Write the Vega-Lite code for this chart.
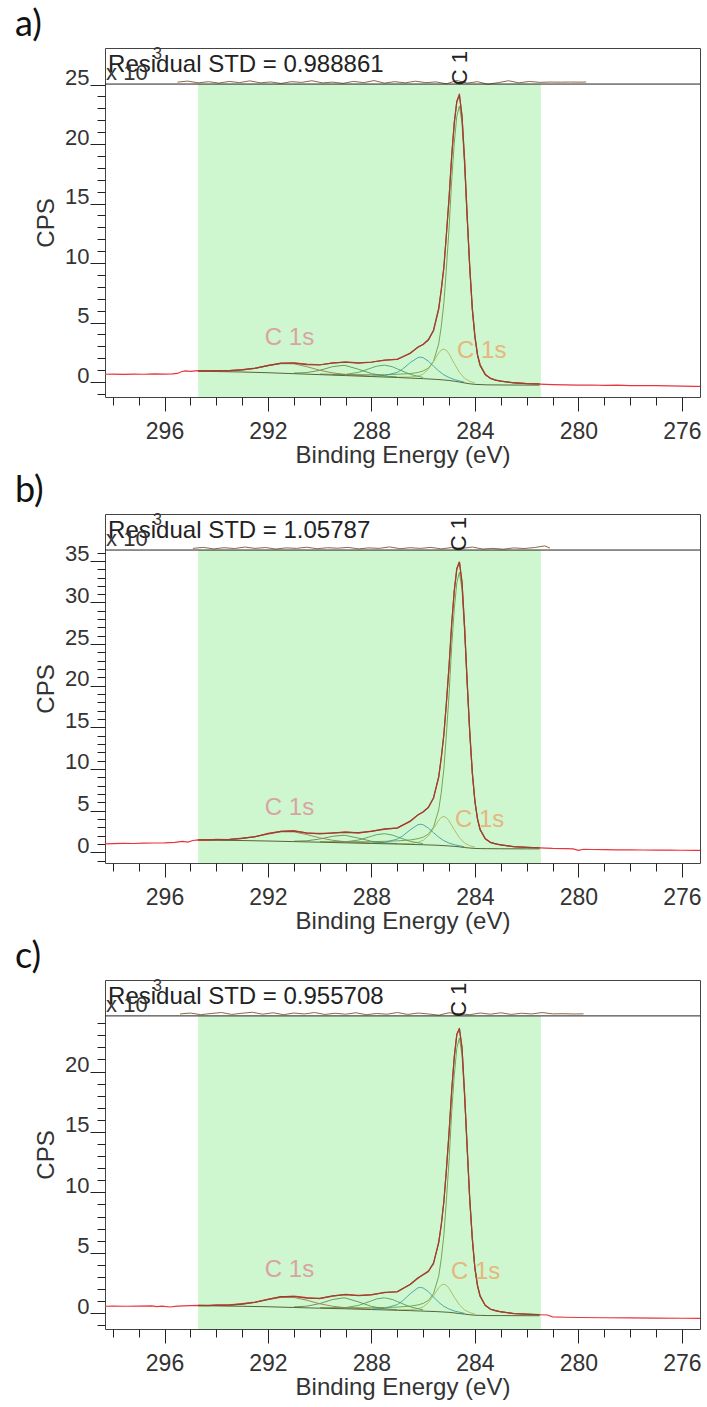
{
  "$schema": "https://vega.github.io/schema/vega-lite/v6.json",
  "background": "white",
  "padding": {"left": 14, "top": 6, "right": 4, "bottom": 0},
  "config": {
    "view": {"stroke": "#444", "strokeWidth": 1},
    "concat": {"spacing": 4},
    "axis": {"grid": false, "domain": false, "labelFont": "Liberation Sans", "titleFont": "Liberation Sans", "labelColor": "#333", "titleColor": "#333", "tickColor": "#222", "labelFontSize": 22, "titleFontSize": 24, "titleFontWeight": "normal", "labelOverlap": false}
  },
  "datasets": {
    "rows": [
      {"p":"a","s":"band","x":294.7,"x2":281.45,"y":-1.26,"y2":25.04},
      {"p":"a","s":"sep","x":298.3,"x2":275.3,"y":25.04},
      {"p":"a","s":"std","x":298.18,"y":26.05,"t":"Residual STD = 0.988861"},
      {"p":"a","s":"x10","x":298.26,"y":25.38,"t":"x 10"},
      {"p":"a","s":"exp","x":296.44,"y":27.14,"t":"3"},
      {"p":"a","s":"tag","x":284.58,"y":26.38,"t":"C 1"},
      {"p":"a","s":"l1","x":292.12,"y":3.7,"t":"C 1s"},
      {"p":"a","s":"l2","x":284.69,"y":2.6,"t":"C 1s"},

      {"p":"a","s":"raw","x":298.3,"y":0.65},{"p":"a","s":"raw","x":298,"y":0.66},{"p":"a","s":"raw","x":297.6,"y":0.64},{"p":"a","s":"raw","x":297.2,"y":0.66},{"p":"a","s":"raw","x":296.8,"y":0.65},{"p":"a","s":"raw","x":296.4,"y":0.68},{"p":"a","s":"raw","x":296,"y":0.67},{"p":"a","s":"raw","x":295.7,"y":0.69},{"p":"a","s":"raw","x":295.5,"y":0.72},{"p":"a","s":"raw","x":295.35,"y":0.86},{"p":"a","s":"raw","x":295.2,"y":0.93},{"p":"a","s":"raw","x":295,"y":0.9},{"p":"a","s":"raw","x":294.7,"y":0.95},{"p":"a","s":"raw","x":294.3,"y":0.93},{"p":"a","s":"raw","x":294,"y":0.96},{"p":"a","s":"raw","x":293.5,"y":0.95},{"p":"a","s":"raw","x":293,"y":1.05},{"p":"a","s":"raw","x":292.5,"y":1.15},{"p":"a","s":"raw","x":292,"y":1.4},{"p":"a","s":"raw","x":291.5,"y":1.56},{"p":"a","s":"raw","x":291,"y":1.62},{"p":"a","s":"raw","x":290.5,"y":1.5},{"p":"a","s":"raw","x":290,"y":1.45},{"p":"a","s":"raw","x":289.5,"y":1.58},{"p":"a","s":"raw","x":289,"y":1.7},{"p":"a","s":"raw","x":288.5,"y":1.6},{"p":"a","s":"raw","x":288,"y":1.68},{"p":"a","s":"raw","x":287.5,"y":1.82},{"p":"a","s":"raw","x":287,"y":1.93},{"p":"a","s":"raw","x":286.5,"y":2.4},{"p":"a","s":"raw","x":286.2,"y":2.95},{"p":"a","s":"raw","x":286,"y":3.15},{"p":"a","s":"raw","x":285.8,"y":3.57},{"p":"a","s":"raw","x":285.6,"y":4.3},{"p":"a","s":"raw","x":285.4,"y":6.1},{"p":"a","s":"raw","x":285.3,"y":7.8},{"p":"a","s":"raw","x":285.2,"y":9.6},{"p":"a","s":"raw","x":285.1,"y":12.5},{"p":"a","s":"raw","x":285,"y":15.5},{"p":"a","s":"raw","x":284.9,"y":18.9},{"p":"a","s":"raw","x":284.8,"y":21.8},{"p":"a","s":"raw","x":284.7,"y":23.6},{"p":"a","s":"raw","x":284.6,"y":24.2},{"p":"a","s":"raw","x":284.5,"y":22.3},{"p":"a","s":"raw","x":284.4,"y":18.7},{"p":"a","s":"raw","x":284.3,"y":13.9},{"p":"a","s":"raw","x":284.2,"y":9.7},{"p":"a","s":"raw","x":284.1,"y":6.1},{"p":"a","s":"raw","x":284,"y":3.85},{"p":"a","s":"raw","x":283.9,"y":2.3},{"p":"a","s":"raw","x":283.8,"y":1.45},{"p":"a","s":"raw","x":283.6,"y":0.65},{"p":"a","s":"raw","x":283.4,"y":0.32},{"p":"a","s":"raw","x":283.2,"y":0.15},{"p":"a","s":"raw","x":283,"y":0.08},{"p":"a","s":"raw","x":282.5,"y":-0.06},{"p":"a","s":"raw","x":282,"y":-0.14},{"p":"a","s":"raw","x":281.5,"y":-0.18},{"p":"a","s":"raw","x":281,"y":-0.22},{"p":"a","s":"raw","x":280.5,"y":-0.24},{"p":"a","s":"raw","x":280,"y":-0.26},{"p":"a","s":"raw","x":279.5,"y":-0.25},{"p":"a","s":"raw","x":279,"y":-0.28},{"p":"a","s":"raw","x":278.5,"y":-0.27},{"p":"a","s":"raw","x":278,"y":-0.3},{"p":"a","s":"raw","x":277.5,"y":-0.31},{"p":"a","s":"raw","x":277,"y":-0.3},{"p":"a","s":"raw","x":276.5,"y":-0.33},{"p":"a","s":"raw","x":276,"y":-0.35},{"p":"a","s":"raw","x":275.5,"y":-0.36},{"p":"a","s":"raw","x":275.3,"y":-0.37},

      {"p":"a","s":"env","x":294.7,"y":0.93},{"p":"a","s":"env","x":294,"y":0.94},{"p":"a","s":"env","x":293.5,"y":0.96},{"p":"a","s":"env","x":293,"y":1.02},{"p":"a","s":"env","x":292.5,"y":1.16},{"p":"a","s":"env","x":292,"y":1.38},{"p":"a","s":"env","x":291.5,"y":1.58},{"p":"a","s":"env","x":291,"y":1.59},{"p":"a","s":"env","x":290.5,"y":1.46},{"p":"a","s":"env","x":290,"y":1.43},{"p":"a","s":"env","x":289.5,"y":1.6},{"p":"a","s":"env","x":289,"y":1.66},{"p":"a","s":"env","x":288.5,"y":1.58},{"p":"a","s":"env","x":288,"y":1.66},{"p":"a","s":"env","x":287.5,"y":1.85},{"p":"a","s":"env","x":287,"y":1.89},{"p":"a","s":"env","x":286.5,"y":2.44},{"p":"a","s":"env","x":286.2,"y":2.92},{"p":"a","s":"env","x":286,"y":3.18},{"p":"a","s":"env","x":285.8,"y":3.53},{"p":"a","s":"env","x":285.6,"y":4.37},{"p":"a","s":"env","x":285.4,"y":6.2},{"p":"a","s":"env","x":285.3,"y":7.76},{"p":"a","s":"env","x":285.2,"y":9.7},{"p":"a","s":"env","x":285.1,"y":12.48},{"p":"a","s":"env","x":285,"y":15.42},{"p":"a","s":"env","x":284.9,"y":18.97},{"p":"a","s":"env","x":284.8,"y":21.69},{"p":"a","s":"env","x":284.7,"y":23.57},{"p":"a","s":"env","x":284.6,"y":24.1},{"p":"a","s":"env","x":284.5,"y":22.39},{"p":"a","s":"env","x":284.4,"y":18.57},{"p":"a","s":"env","x":284.3,"y":13.96},{"p":"a","s":"env","x":284.2,"y":9.65},{"p":"a","s":"env","x":284.1,"y":6.17},{"p":"a","s":"env","x":284,"y":3.81},{"p":"a","s":"env","x":283.9,"y":2.28},{"p":"a","s":"env","x":283.8,"y":1.41},{"p":"a","s":"env","x":283.6,"y":0.62},{"p":"a","s":"env","x":283.4,"y":0.3},{"p":"a","s":"env","x":283.2,"y":0.16},{"p":"a","s":"env","x":283,"y":0.07},{"p":"a","s":"env","x":282.5,"y":-0.07},{"p":"a","s":"env","x":282,"y":-0.13},{"p":"a","s":"env","x":281.5,"y":-0.16},

      {"p":"a","s":"bg","x":294.7,"y":0.9},{"p":"a","s":"bg","x":294,"y":0.88},{"p":"a","s":"bg","x":293,"y":0.84},{"p":"a","s":"bg","x":292,"y":0.78},{"p":"a","s":"bg","x":291,"y":0.7},{"p":"a","s":"bg","x":290,"y":0.62},{"p":"a","s":"bg","x":289,"y":0.54},{"p":"a","s":"bg","x":288,"y":0.46},{"p":"a","s":"bg","x":287,"y":0.38},{"p":"a","s":"bg","x":286.5,"y":0.33},{"p":"a","s":"bg","x":286,"y":0.28},{"p":"a","s":"bg","x":285.5,"y":0.22},{"p":"a","s":"bg","x":285.2,"y":0.17},{"p":"a","s":"bg","x":285,"y":0.13},{"p":"a","s":"bg","x":284.8,"y":0.07},{"p":"a","s":"bg","x":284.6,"y":0},{"p":"a","s":"bg","x":284.4,"y":-0.08},{"p":"a","s":"bg","x":284.2,"y":-0.15},{"p":"a","s":"bg","x":284,"y":-0.2},{"p":"a","s":"bg","x":283.5,"y":-0.24},{"p":"a","s":"bg","x":283,"y":-0.25},{"p":"a","s":"bg","x":282,"y":-0.26},{"p":"a","s":"bg","x":281.5,"y":-0.26},

      {"p":"a","s":"k1","x":281.5,"y":-0.16},{"p":"a","s":"k1","x":282,"y":-0.13},{"p":"a","s":"k1","x":282.5,"y":-0.07},{"p":"a","s":"k1","x":283,"y":0.07},{"p":"a","s":"k1","x":283.4,"y":0.3},{"p":"a","s":"k1","x":283.6,"y":0.58},{"p":"a","s":"k1","x":283.8,"y":1.34},{"p":"a","s":"k1","x":283.9,"y":2.19},{"p":"a","s":"k1","x":284,"y":3.7},{"p":"a","s":"k1","x":284.1,"y":6.02},{"p":"a","s":"k1","x":284.2,"y":9.45},{"p":"a","s":"k1","x":284.3,"y":13.68},{"p":"a","s":"k1","x":284.4,"y":18.12},{"p":"a","s":"k1","x":284.5,"y":21.76},{"p":"a","s":"k1","x":284.6,"y":23.2},{"p":"a","s":"k1","x":284.7,"y":22.34},{"p":"a","s":"k1","x":284.8,"y":20.07},{"p":"a","s":"k1","x":284.9,"y":16.9},{"p":"a","s":"k1","x":285,"y":12.93},{"p":"a","s":"k1","x":285.1,"y":9.65},{"p":"a","s":"k1","x":285.2,"y":6.67},{"p":"a","s":"k1","x":285.3,"y":4.69},{"p":"a","s":"k1","x":285.4,"y":3.21},{"p":"a","s":"k1","x":285.6,"y":1.74},{"p":"a","s":"k1","x":285.8,"y":1.16},{"p":"a","s":"k1","x":286,"y":0.93},{"p":"a","s":"k1","x":286.2,"y":0.8},{"p":"a","s":"k1","x":286.5,"y":0.71},{"p":"a","s":"k1","x":287,"y":0.65},{"p":"a","s":"k1","x":287.5,"y":0.62},{"p":"a","s":"k1","x":288,"y":0.61},{"p":"a","s":"k1","x":289,"y":0.63},{"p":"a","s":"k1","x":290,"y":0.67},

      {"p":"a","s":"k2","x":284,"y":-0.09},{"p":"a","s":"k2","x":284.2,"y":0.05},{"p":"a","s":"k2","x":284.4,"y":0.31},{"p":"a","s":"k2","x":284.6,"y":0.81},{"p":"a","s":"k2","x":284.8,"y":1.55},{"p":"a","s":"k2","x":285,"y":2.37},{"p":"a","s":"k2","x":285.1,"y":2.65},{"p":"a","s":"k2","x":285.2,"y":2.77},{"p":"a","s":"k2","x":285.3,"y":2.69},{"p":"a","s":"k2","x":285.4,"y":2.45},{"p":"a","s":"k2","x":285.6,"y":1.72},{"p":"a","s":"k2","x":285.8,"y":1.07},{"p":"a","s":"k2","x":286,"y":0.67},{"p":"a","s":"k2","x":286.2,"y":0.5},{"p":"a","s":"k2","x":286.5,"y":0.42},{"p":"a","s":"k2","x":287,"y":0.41},

      {"p":"a","s":"k3","x":284.4,"y":-0.02},{"p":"a","s":"k3","x":284.8,"y":0.21},{"p":"a","s":"k3","x":285,"y":0.38},{"p":"a","s":"k3","x":285.2,"y":0.6},{"p":"a","s":"k3","x":285.4,"y":0.93},{"p":"a","s":"k3","x":285.6,"y":1.34},{"p":"a","s":"k3","x":285.8,"y":1.75},{"p":"a","s":"k3","x":286,"y":2.04},{"p":"a","s":"k3","x":286.1,"y":2.09},{"p":"a","s":"k3","x":286.2,"y":2.06},{"p":"a","s":"k3","x":286.5,"y":1.63},{"p":"a","s":"k3","x":286.8,"y":1.08},{"p":"a","s":"k3","x":287,"y":0.81},{"p":"a","s":"k3","x":287.5,"y":0.54},{"p":"a","s":"k3","x":288,"y":0.51},

      {"p":"a","s":"k4","x":286,"y":0.38},{"p":"a","s":"k4","x":286.5,"y":0.64},{"p":"a","s":"k4","x":287,"y":1.1},{"p":"a","s":"k4","x":287.2,"y":1.29},{"p":"a","s":"k4","x":287.5,"y":1.42},{"p":"a","s":"k4","x":287.8,"y":1.33},{"p":"a","s":"k4","x":288,"y":1.18},{"p":"a","s":"k4","x":288.5,"y":0.81},{"p":"a","s":"k4","x":289,"y":0.64},{"p":"a","s":"k4","x":289.5,"y":0.62},

      {"p":"a","s":"k5","x":287,"y":0.42},{"p":"a","s":"k5","x":287.5,"y":0.51},{"p":"a","s":"k5","x":288,"y":0.71},{"p":"a","s":"k5","x":288.5,"y":1.07},{"p":"a","s":"k5","x":289,"y":1.38},{"p":"a","s":"k5","x":289.1,"y":1.4},{"p":"a","s":"k5","x":289.5,"y":1.29},{"p":"a","s":"k5","x":290,"y":0.98},{"p":"a","s":"k5","x":290.5,"y":0.79},{"p":"a","s":"k5","x":291,"y":0.75},

      {"p":"a","s":"k6","x":288,"y":0.49},{"p":"a","s":"k6","x":289,"y":0.63},{"p":"a","s":"k6","x":289.5,"y":0.77},{"p":"a","s":"k6","x":290,"y":0.99},{"p":"a","s":"k6","x":290.5,"y":1.29},{"p":"a","s":"k6","x":291,"y":1.53},{"p":"a","s":"k6","x":291.5,"y":1.54},{"p":"a","s":"k6","x":292,"y":1.36},{"p":"a","s":"k6","x":292.5,"y":1.14},{"p":"a","s":"k6","x":293,"y":1},{"p":"a","s":"k6","x":293.5,"y":0.94},{"p":"a","s":"k6","x":294,"y":0.92},{"p":"a","s":"k6","x":294.7,"y":0.92},

      {"p":"a","s":"res","x":295.5,"y":25.2},{"p":"a","s":"res","x":295.1,"y":25.29},{"p":"a","s":"res","x":294.7,"y":25.14},{"p":"a","s":"res","x":294.3,"y":25.24},{"p":"a","s":"res","x":293.9,"y":25.12},{"p":"a","s":"res","x":293.5,"y":25.26},{"p":"a","s":"res","x":293.1,"y":25.16},{"p":"a","s":"res","x":292.7,"y":25.31},{"p":"a","s":"res","x":292.3,"y":25.14},{"p":"a","s":"res","x":291.9,"y":25.22},{"p":"a","s":"res","x":291.5,"y":25.09},{"p":"a","s":"res","x":291.1,"y":25.24},{"p":"a","s":"res","x":290.7,"y":25.18},{"p":"a","s":"res","x":290.3,"y":25.32},{"p":"a","s":"res","x":289.9,"y":25.14},{"p":"a","s":"res","x":289.5,"y":25.2},{"p":"a","s":"res","x":289.1,"y":25.1},{"p":"a","s":"res","x":288.7,"y":25.26},{"p":"a","s":"res","x":288.3,"y":25.16},{"p":"a","s":"res","x":287.9,"y":25.33},{"p":"a","s":"res","x":287.5,"y":25.12},{"p":"a","s":"res","x":287.1,"y":25.24},{"p":"a","s":"res","x":286.7,"y":25.14},{"p":"a","s":"res","x":286.3,"y":25.28},{"p":"a","s":"res","x":285.9,"y":25.16},{"p":"a","s":"res","x":285.5,"y":25.22},{"p":"a","s":"res","x":285.1,"y":25.06},{"p":"a","s":"res","x":284.7,"y":25.34},{"p":"a","s":"res","x":284.3,"y":25.12},{"p":"a","s":"res","x":283.9,"y":25.24},{"p":"a","s":"res","x":283.5,"y":25.02},{"p":"a","s":"res","x":283.1,"y":25.16},{"p":"a","s":"res","x":282.7,"y":25.32},{"p":"a","s":"res","x":282.3,"y":25.14},{"p":"a","s":"res","x":281.9,"y":25.26},{"p":"a","s":"res","x":281.5,"y":25.18},{"p":"a","s":"res","x":281.1,"y":25.21},{"p":"a","s":"res","x":280.7,"y":25.2},{"p":"a","s":"res","x":280.3,"y":25.21},{"p":"a","s":"res","x":279.9,"y":25.2},{"p":"a","s":"res","x":279.7,"y":25.21},

      {"p":"b","s":"band","x":294.7,"x2":281.45,"y":-1.3,"y2":36.3},
      {"p":"b","s":"sep","x":298.3,"x2":275.3,"y":36.3},
      {"p":"b","s":"std","x":298.18,"y":37.74,"t":"Residual STD = 1.05787"},
      {"p":"b","s":"x10","x":298.26,"y":36.78,"t":"x 10"},
      {"p":"b","s":"exp","x":296.44,"y":39.3,"t":"3"},
      {"p":"b","s":"tag","x":284.62,"y":38.22,"t":"C 1"},
      {"p":"b","s":"l1","x":292.12,"y":5.3,"t":"C 1s"},
      {"p":"b","s":"l2","x":284.77,"y":3.85,"t":"C 1s"},

      {"p":"b","s":"raw","x":298.3,"y":1},{"p":"b","s":"raw","x":298,"y":1.02},{"p":"b","s":"raw","x":297.6,"y":1.05},{"p":"b","s":"raw","x":297.2,"y":1.04},{"p":"b","s":"raw","x":296.8,"y":1.08},{"p":"b","s":"raw","x":296.4,"y":1.1},{"p":"b","s":"raw","x":296,"y":1.12},{"p":"b","s":"raw","x":295.6,"y":1.18},{"p":"b","s":"raw","x":295.3,"y":1.3},{"p":"b","s":"raw","x":295.1,"y":1.22},{"p":"b","s":"raw","x":294.9,"y":1.4},{"p":"b","s":"raw","x":294.7,"y":1.48},{"p":"b","s":"raw","x":294.3,"y":1.45},{"p":"b","s":"raw","x":294,"y":1.55},{"p":"b","s":"raw","x":293.5,"y":1.5},{"p":"b","s":"raw","x":293,"y":1.7},{"p":"b","s":"raw","x":292.5,"y":1.85},{"p":"b","s":"raw","x":292,"y":2.25},{"p":"b","s":"raw","x":291.5,"y":2.5},{"p":"b","s":"raw","x":291,"y":2.58},{"p":"b","s":"raw","x":290.5,"y":2.3},{"p":"b","s":"raw","x":290,"y":2.25},{"p":"b","s":"raw","x":289.5,"y":2.3},{"p":"b","s":"raw","x":289,"y":2.45},{"p":"b","s":"raw","x":288.5,"y":2.3},{"p":"b","s":"raw","x":288,"y":2.52},{"p":"b","s":"raw","x":287.5,"y":2.75},{"p":"b","s":"raw","x":287,"y":2.93},{"p":"b","s":"raw","x":286.5,"y":3.7},{"p":"b","s":"raw","x":286.2,"y":4.5},{"p":"b","s":"raw","x":286,"y":4.82},{"p":"b","s":"raw","x":285.8,"y":5.4},{"p":"b","s":"raw","x":285.6,"y":6.5},{"p":"b","s":"raw","x":285.4,"y":9},{"p":"b","s":"raw","x":285.3,"y":11.4},{"p":"b","s":"raw","x":285.2,"y":14.2},{"p":"b","s":"raw","x":285.1,"y":18},{"p":"b","s":"raw","x":285,"y":22.4},{"p":"b","s":"raw","x":284.9,"y":27.3},{"p":"b","s":"raw","x":284.8,"y":31.4},{"p":"b","s":"raw","x":284.7,"y":34.1},{"p":"b","s":"raw","x":284.6,"y":34.9},{"p":"b","s":"raw","x":284.5,"y":32.4},{"p":"b","s":"raw","x":284.4,"y":27.1},{"p":"b","s":"raw","x":284.3,"y":20.4},{"p":"b","s":"raw","x":284.2,"y":14.5},{"p":"b","s":"raw","x":284.1,"y":9.5},{"p":"b","s":"raw","x":284,"y":6.15},{"p":"b","s":"raw","x":283.9,"y":4},{"p":"b","s":"raw","x":283.8,"y":2.75},{"p":"b","s":"raw","x":283.6,"y":1.6},{"p":"b","s":"raw","x":283.4,"y":1.18},{"p":"b","s":"raw","x":283.2,"y":0.98},{"p":"b","s":"raw","x":283,"y":0.88},{"p":"b","s":"raw","x":282.5,"y":0.65},{"p":"b","s":"raw","x":282,"y":0.57},{"p":"b","s":"raw","x":281.5,"y":0.52},{"p":"b","s":"raw","x":281,"y":0.45},{"p":"b","s":"raw","x":280.5,"y":0.42},{"p":"b","s":"raw","x":280.2,"y":0.4},{"p":"b","s":"raw","x":280,"y":0.22},{"p":"b","s":"raw","x":279.8,"y":0.35},{"p":"b","s":"raw","x":279.5,"y":0.32},{"p":"b","s":"raw","x":279,"y":0.3},{"p":"b","s":"raw","x":278.5,"y":0.28},{"p":"b","s":"raw","x":278,"y":0.27},{"p":"b","s":"raw","x":277.5,"y":0.26},{"p":"b","s":"raw","x":277,"y":0.25},{"p":"b","s":"raw","x":276.5,"y":0.24},{"p":"b","s":"raw","x":276,"y":0.23},{"p":"b","s":"raw","x":275.5,"y":0.22},{"p":"b","s":"raw","x":275.3,"y":0.22},

      {"p":"b","s":"env","x":294.7,"y":1.49},{"p":"b","s":"env","x":294,"y":1.5},{"p":"b","s":"env","x":293.5,"y":1.54},{"p":"b","s":"env","x":293,"y":1.65},{"p":"b","s":"env","x":292.5,"y":1.87},{"p":"b","s":"env","x":292,"y":2.21},{"p":"b","s":"env","x":291.5,"y":2.51},{"p":"b","s":"env","x":291,"y":2.53},{"p":"b","s":"env","x":290.5,"y":2.32},{"p":"b","s":"env","x":290,"y":2.2},{"p":"b","s":"env","x":289.5,"y":2.33},{"p":"b","s":"env","x":289,"y":2.39},{"p":"b","s":"env","x":288.5,"y":2.34},{"p":"b","s":"env","x":288,"y":2.49},{"p":"b","s":"env","x":287.5,"y":2.79},{"p":"b","s":"env","x":287,"y":2.89},{"p":"b","s":"env","x":286.5,"y":3.74},{"p":"b","s":"env","x":286.2,"y":4.48},{"p":"b","s":"env","x":286,"y":4.86},{"p":"b","s":"env","x":285.8,"y":5.36},{"p":"b","s":"env","x":285.6,"y":6.54},{"p":"b","s":"env","x":285.4,"y":9.08},{"p":"b","s":"env","x":285.3,"y":11.37},{"p":"b","s":"env","x":285.2,"y":14.12},{"p":"b","s":"env","x":285.1,"y":18.12},{"p":"b","s":"env","x":285,"y":22.32},{"p":"b","s":"env","x":284.9,"y":27.4},{"p":"b","s":"env","x":284.8,"y":31.35},{"p":"b","s":"env","x":284.7,"y":34.02},{"p":"b","s":"env","x":284.6,"y":34.84},{"p":"b","s":"env","x":284.5,"y":32.46},{"p":"b","s":"env","x":284.4,"y":27.04},{"p":"b","s":"env","x":284.3,"y":20.5},{"p":"b","s":"env","x":284.2,"y":14.4},{"p":"b","s":"env","x":284.1,"y":9.55},{"p":"b","s":"env","x":284,"y":6.11},{"p":"b","s":"env","x":283.9,"y":3.99},{"p":"b","s":"env","x":283.8,"y":2.73},{"p":"b","s":"env","x":283.6,"y":1.62},{"p":"b","s":"env","x":283.4,"y":1.17},{"p":"b","s":"env","x":283.2,"y":1},{"p":"b","s":"env","x":283,"y":0.87},{"p":"b","s":"env","x":282.5,"y":0.66},{"p":"b","s":"env","x":282,"y":0.58},{"p":"b","s":"env","x":281.5,"y":0.53},

      {"p":"b","s":"bg","x":294.7,"y":1.45},{"p":"b","s":"bg","x":294,"y":1.43},{"p":"b","s":"bg","x":293,"y":1.4},{"p":"b","s":"bg","x":292,"y":1.34},{"p":"b","s":"bg","x":291,"y":1.27},{"p":"b","s":"bg","x":290,"y":1.2},{"p":"b","s":"bg","x":289,"y":1.12},{"p":"b","s":"bg","x":288,"y":1.05},{"p":"b","s":"bg","x":287,"y":0.98},{"p":"b","s":"bg","x":286.5,"y":0.93},{"p":"b","s":"bg","x":286,"y":0.89},{"p":"b","s":"bg","x":285.5,"y":0.84},{"p":"b","s":"bg","x":285,"y":0.75},{"p":"b","s":"bg","x":284.8,"y":0.7},{"p":"b","s":"bg","x":284.6,"y":0.64},{"p":"b","s":"bg","x":284.4,"y":0.56},{"p":"b","s":"bg","x":284.2,"y":0.5},{"p":"b","s":"bg","x":284,"y":0.45},{"p":"b","s":"bg","x":283.8,"y":0.43},{"p":"b","s":"bg","x":283.5,"y":0.42},{"p":"b","s":"bg","x":283,"y":0.41},{"p":"b","s":"bg","x":282,"y":0.4},{"p":"b","s":"bg","x":281.5,"y":0.4},

      {"p":"b","s":"k1","x":281.5,"y":0.53},{"p":"b","s":"k1","x":282,"y":0.58},{"p":"b","s":"k1","x":282.5,"y":0.66},{"p":"b","s":"k1","x":283,"y":0.87},{"p":"b","s":"k1","x":283.4,"y":1.17},{"p":"b","s":"k1","x":283.6,"y":1.57},{"p":"b","s":"k1","x":283.8,"y":2.64},{"p":"b","s":"k1","x":283.9,"y":3.87},{"p":"b","s":"k1","x":284,"y":5.96},{"p":"b","s":"k1","x":284.1,"y":9.35},{"p":"b","s":"k1","x":284.2,"y":14.13},{"p":"b","s":"k1","x":284.3,"y":20.13},{"p":"b","s":"k1","x":284.4,"y":26.43},{"p":"b","s":"k1","x":284.5,"y":31.59},{"p":"b","s":"k1","x":284.6,"y":33.64},{"p":"b","s":"k1","x":284.7,"y":32.37},{"p":"b","s":"k1","x":284.8,"y":29.15},{"p":"b","s":"k1","x":284.9,"y":24.63},{"p":"b","s":"k1","x":285,"y":18.97},{"p":"b","s":"k1","x":285.1,"y":14.3},{"p":"b","s":"k1","x":285.2,"y":10.03},{"p":"b","s":"k1","x":285.3,"y":7.21},{"p":"b","s":"k1","x":285.4,"y":5.09},{"p":"b","s":"k1","x":285.6,"y":3},{"p":"b","s":"k1","x":285.8,"y":2.16},{"p":"b","s":"k1","x":286,"y":1.81},{"p":"b","s":"k1","x":286.2,"y":1.62},{"p":"b","s":"k1","x":286.5,"y":1.47},{"p":"b","s":"k1","x":287,"y":1.36},{"p":"b","s":"k1","x":287.5,"y":1.3},{"p":"b","s":"k1","x":288,"y":1.26},{"p":"b","s":"k1","x":289,"y":1.25},{"p":"b","s":"k1","x":290,"y":1.27},

      {"p":"b","s":"k2","x":284,"y":0.6},{"p":"b","s":"k2","x":284.2,"y":0.77},{"p":"b","s":"k2","x":284.4,"y":1.09},{"p":"b","s":"k2","x":284.6,"y":1.73},{"p":"b","s":"k2","x":284.8,"y":2.7},{"p":"b","s":"k2","x":285,"y":3.76},{"p":"b","s":"k2","x":285.1,"y":4.14},{"p":"b","s":"k2","x":285.2,"y":4.29},{"p":"b","s":"k2","x":285.3,"y":4.18},{"p":"b","s":"k2","x":285.4,"y":3.84},{"p":"b","s":"k2","x":285.6,"y":2.85},{"p":"b","s":"k2","x":285.8,"y":1.96},{"p":"b","s":"k2","x":286,"y":1.42},{"p":"b","s":"k2","x":286.2,"y":1.18},{"p":"b","s":"k2","x":286.5,"y":1.05},{"p":"b","s":"k2","x":287,"y":1.02},

      {"p":"b","s":"k3","x":284.4,"y":0.64},{"p":"b","s":"k3","x":284.8,"y":0.9},{"p":"b","s":"k3","x":285,"y":1.09},{"p":"b","s":"k3","x":285.2,"y":1.38},{"p":"b","s":"k3","x":285.4,"y":1.81},{"p":"b","s":"k3","x":285.6,"y":2.34},{"p":"b","s":"k3","x":285.8,"y":2.9},{"p":"b","s":"k3","x":286,"y":3.29},{"p":"b","s":"k3","x":286.1,"y":3.35},{"p":"b","s":"k3","x":286.2,"y":3.31},{"p":"b","s":"k3","x":286.5,"y":2.69},{"p":"b","s":"k3","x":286.8,"y":1.94},{"p":"b","s":"k3","x":287,"y":1.57},{"p":"b","s":"k3","x":287.5,"y":1.18},{"p":"b","s":"k3","x":288,"y":1.12},

      {"p":"b","s":"k4","x":286,"y":1.01},{"p":"b","s":"k4","x":286.5,"y":1.3},{"p":"b","s":"k4","x":287,"y":1.84},{"p":"b","s":"k4","x":287.2,"y":2.06},{"p":"b","s":"k4","x":287.5,"y":2.22},{"p":"b","s":"k4","x":287.8,"y":2.1},{"p":"b","s":"k4","x":288,"y":1.91},{"p":"b","s":"k4","x":288.5,"y":1.46},{"p":"b","s":"k4","x":289,"y":1.24},{"p":"b","s":"k4","x":289.5,"y":1.21},

      {"p":"b","s":"k5","x":287,"y":1.02},{"p":"b","s":"k5","x":287.5,"y":1.12},{"p":"b","s":"k5","x":288,"y":1.31},{"p":"b","s":"k5","x":288.5,"y":1.69},{"p":"b","s":"k5","x":289,"y":2.01},{"p":"b","s":"k5","x":289.1,"y":2.03},{"p":"b","s":"k5","x":289.5,"y":1.91},{"p":"b","s":"k5","x":290,"y":1.58},{"p":"b","s":"k5","x":290.5,"y":1.37},{"p":"b","s":"k5","x":291,"y":1.32},

      {"p":"b","s":"k6","x":288,"y":1.09},{"p":"b","s":"k6","x":289,"y":1.25},{"p":"b","s":"k6","x":289.5,"y":1.43},{"p":"b","s":"k6","x":290,"y":1.72},{"p":"b","s":"k6","x":290.5,"y":2.12},{"p":"b","s":"k6","x":291,"y":2.44},{"p":"b","s":"k6","x":291.5,"y":2.44},{"p":"b","s":"k6","x":292,"y":2.16},{"p":"b","s":"k6","x":292.5,"y":1.84},{"p":"b","s":"k6","x":293,"y":1.63},{"p":"b","s":"k6","x":293.5,"y":1.52},{"p":"b","s":"k6","x":294,"y":1.49},{"p":"b","s":"k6","x":294.7,"y":1.48},

      {"p":"b","s":"res","x":294.9,"y":36.5},{"p":"b","s":"res","x":294.5,"y":36.62},{"p":"b","s":"res","x":294.1,"y":36.44},{"p":"b","s":"res","x":293.7,"y":36.58},{"p":"b","s":"res","x":293.3,"y":36.48},{"p":"b","s":"res","x":292.9,"y":36.66},{"p":"b","s":"res","x":292.5,"y":36.5},{"p":"b","s":"res","x":292.1,"y":36.6},{"p":"b","s":"res","x":291.7,"y":36.42},{"p":"b","s":"res","x":291.3,"y":36.56},{"p":"b","s":"res","x":290.9,"y":36.5},{"p":"b","s":"res","x":290.5,"y":36.64},{"p":"b","s":"res","x":290.1,"y":36.46},{"p":"b","s":"res","x":289.7,"y":36.58},{"p":"b","s":"res","x":289.3,"y":36.52},{"p":"b","s":"res","x":288.9,"y":36.62},{"p":"b","s":"res","x":288.5,"y":36.44},{"p":"b","s":"res","x":288.1,"y":36.56},{"p":"b","s":"res","x":287.7,"y":36.5},{"p":"b","s":"res","x":287.3,"y":36.68},{"p":"b","s":"res","x":286.9,"y":36.46},{"p":"b","s":"res","x":286.5,"y":36.58},{"p":"b","s":"res","x":286.1,"y":36.5},{"p":"b","s":"res","x":285.7,"y":36.62},{"p":"b","s":"res","x":285.3,"y":36.44},{"p":"b","s":"res","x":284.9,"y":36.6},{"p":"b","s":"res","x":284.5,"y":36.5},{"p":"b","s":"res","x":284.1,"y":36.66},{"p":"b","s":"res","x":283.7,"y":36.42},{"p":"b","s":"res","x":283.3,"y":36.5},{"p":"b","s":"res","x":282.9,"y":36.4},{"p":"b","s":"res","x":282.5,"y":36.56},{"p":"b","s":"res","x":282.1,"y":36.48},{"p":"b","s":"res","x":281.7,"y":36.6},{"p":"b","s":"res","x":281.3,"y":36.8},{"p":"b","s":"res","x":281.1,"y":36.54},

      {"p":"c","s":"band","x":294.7,"x2":281.45,"y":-1.3,"y2":24.6},
      {"p":"c","s":"sep","x":298.3,"x2":275.3,"y":24.6},
      {"p":"c","s":"std","x":298.18,"y":25.59,"t":"Residual STD = 0.955708"},
      {"p":"c","s":"x10","x":298.26,"y":24.93,"t":"x 10"},
      {"p":"c","s":"exp","x":296.44,"y":26.67,"t":"3"},
      {"p":"c","s":"tag","x":284.62,"y":25.92,"t":"C 1"},
      {"p":"c","s":"l1","x":292.12,"y":3.6,"t":"C 1s"},
      {"p":"c","s":"l2","x":284.93,"y":3.4,"t":"C 1s"},

      {"p":"c","s":"raw","x":298.3,"y":0.58},{"p":"c","s":"raw","x":298,"y":0.6},{"p":"c","s":"raw","x":297.5,"y":0.58},{"p":"c","s":"raw","x":297,"y":0.6},{"p":"c","s":"raw","x":296.5,"y":0.62},{"p":"c","s":"raw","x":296.3,"y":0.55},{"p":"c","s":"raw","x":296.1,"y":0.6},{"p":"c","s":"raw","x":295.8,"y":0.52},{"p":"c","s":"raw","x":295.5,"y":0.6},{"p":"c","s":"raw","x":295,"y":0.63},{"p":"c","s":"raw","x":294.7,"y":0.66},{"p":"c","s":"raw","x":294.3,"y":0.64},{"p":"c","s":"raw","x":294,"y":0.7},{"p":"c","s":"raw","x":293.5,"y":0.7},{"p":"c","s":"raw","x":293,"y":0.8},{"p":"c","s":"raw","x":292.5,"y":0.92},{"p":"c","s":"raw","x":292,"y":1.15},{"p":"c","s":"raw","x":291.5,"y":1.35},{"p":"c","s":"raw","x":291,"y":1.42},{"p":"c","s":"raw","x":290.5,"y":1.3},{"p":"c","s":"raw","x":290,"y":1.22},{"p":"c","s":"raw","x":289.5,"y":1.42},{"p":"c","s":"raw","x":289,"y":1.57},{"p":"c","s":"raw","x":288.5,"y":1.48},{"p":"c","s":"raw","x":288,"y":1.55},{"p":"c","s":"raw","x":287.5,"y":1.7},{"p":"c","s":"raw","x":287,"y":1.8},{"p":"c","s":"raw","x":286.5,"y":2.38},{"p":"c","s":"raw","x":286.2,"y":2.9},{"p":"c","s":"raw","x":286,"y":3.2},{"p":"c","s":"raw","x":285.8,"y":3.5},{"p":"c","s":"raw","x":285.6,"y":4.1},{"p":"c","s":"raw","x":285.4,"y":5.9},{"p":"c","s":"raw","x":285.3,"y":7.3},{"p":"c","s":"raw","x":285.2,"y":9.3},{"p":"c","s":"raw","x":285.1,"y":11.9},{"p":"c","s":"raw","x":285,"y":15},{"p":"c","s":"raw","x":284.9,"y":18.3},{"p":"c","s":"raw","x":284.8,"y":21.2},{"p":"c","s":"raw","x":284.7,"y":23.1},{"p":"c","s":"raw","x":284.6,"y":23.5},{"p":"c","s":"raw","x":284.5,"y":22},{"p":"c","s":"raw","x":284.4,"y":18.1},{"p":"c","s":"raw","x":284.3,"y":13.8},{"p":"c","s":"raw","x":284.2,"y":9.4},{"p":"c","s":"raw","x":284.1,"y":6.2},{"p":"c","s":"raw","x":284,"y":3.7},{"p":"c","s":"raw","x":283.9,"y":2.3},{"p":"c","s":"raw","x":283.8,"y":1.45},{"p":"c","s":"raw","x":283.6,"y":0.66},{"p":"c","s":"raw","x":283.4,"y":0.35},{"p":"c","s":"raw","x":283.2,"y":0.2},{"p":"c","s":"raw","x":283,"y":0.12},{"p":"c","s":"raw","x":282.5,"y":-0.03},{"p":"c","s":"raw","x":282,"y":-0.08},{"p":"c","s":"raw","x":281.5,"y":-0.12},{"p":"c","s":"raw","x":281.2,"y":-0.14},{"p":"c","s":"raw","x":281,"y":-0.3},{"p":"c","s":"raw","x":280.5,"y":-0.33},{"p":"c","s":"raw","x":280,"y":-0.35},{"p":"c","s":"raw","x":279,"y":-0.37},{"p":"c","s":"raw","x":278,"y":-0.38},{"p":"c","s":"raw","x":277,"y":-0.4},{"p":"c","s":"raw","x":276,"y":-0.41},{"p":"c","s":"raw","x":275.3,"y":-0.42},

      {"p":"c","s":"env","x":294.7,"y":0.65},{"p":"c","s":"env","x":294,"y":0.66},{"p":"c","s":"env","x":293.5,"y":0.68},{"p":"c","s":"env","x":293,"y":0.75},{"p":"c","s":"env","x":292.5,"y":0.91},{"p":"c","s":"env","x":292,"y":1.16},{"p":"c","s":"env","x":291.5,"y":1.37},{"p":"c","s":"env","x":291,"y":1.39},{"p":"c","s":"env","x":290.5,"y":1.26},{"p":"c","s":"env","x":290,"y":1.24},{"p":"c","s":"env","x":289.5,"y":1.44},{"p":"c","s":"env","x":289,"y":1.54},{"p":"c","s":"env","x":288.5,"y":1.45},{"p":"c","s":"env","x":288,"y":1.52},{"p":"c","s":"env","x":287.5,"y":1.73},{"p":"c","s":"env","x":287,"y":1.77},{"p":"c","s":"env","x":286.5,"y":2.4},{"p":"c","s":"env","x":286.2,"y":2.94},{"p":"c","s":"env","x":286,"y":3.18},{"p":"c","s":"env","x":285.8,"y":3.46},{"p":"c","s":"env","x":285.6,"y":4.17},{"p":"c","s":"env","x":285.4,"y":5.83},{"p":"c","s":"env","x":285.3,"y":7.37},{"p":"c","s":"env","x":285.2,"y":9.25},{"p":"c","s":"env","x":285.1,"y":12.01},{"p":"c","s":"env","x":285,"y":14.92},{"p":"c","s":"env","x":284.9,"y":18.43},{"p":"c","s":"env","x":284.8,"y":21.15},{"p":"c","s":"env","x":284.7,"y":23.03},{"p":"c","s":"env","x":284.6,"y":23.58},{"p":"c","s":"env","x":284.5,"y":21.96},{"p":"c","s":"env","x":284.4,"y":18.22},{"p":"c","s":"env","x":284.3,"y":13.69},{"p":"c","s":"env","x":284.2,"y":9.48},{"p":"c","s":"env","x":284.1,"y":6.12},{"p":"c","s":"env","x":284,"y":3.75},{"p":"c","s":"env","x":283.9,"y":2.28},{"p":"c","s":"env","x":283.8,"y":1.42},{"p":"c","s":"env","x":283.6,"y":0.65},{"p":"c","s":"env","x":283.4,"y":0.33},{"p":"c","s":"env","x":283.2,"y":0.22},{"p":"c","s":"env","x":283,"y":0.13},{"p":"c","s":"env","x":282.5,"y":-0.02},{"p":"c","s":"env","x":282,"y":-0.07},{"p":"c","s":"env","x":281.5,"y":-0.11},

      {"p":"c","s":"bg","x":294.7,"y":0.62},{"p":"c","s":"bg","x":294,"y":0.61},{"p":"c","s":"bg","x":293,"y":0.58},{"p":"c","s":"bg","x":292,"y":0.54},{"p":"c","s":"bg","x":291,"y":0.48},{"p":"c","s":"bg","x":290,"y":0.42},{"p":"c","s":"bg","x":289,"y":0.37},{"p":"c","s":"bg","x":288,"y":0.31},{"p":"c","s":"bg","x":287,"y":0.25},{"p":"c","s":"bg","x":286.5,"y":0.22},{"p":"c","s":"bg","x":286,"y":0.18},{"p":"c","s":"bg","x":285.5,"y":0.14},{"p":"c","s":"bg","x":285,"y":0.08},{"p":"c","s":"bg","x":284.8,"y":0.03},{"p":"c","s":"bg","x":284.6,"y":-0.02},{"p":"c","s":"bg","x":284.4,"y":-0.07},{"p":"c","s":"bg","x":284.2,"y":-0.12},{"p":"c","s":"bg","x":284,"y":-0.16},{"p":"c","s":"bg","x":283.8,"y":-0.17},{"p":"c","s":"bg","x":283.5,"y":-0.19},{"p":"c","s":"bg","x":283,"y":-0.19},{"p":"c","s":"bg","x":282,"y":-0.2},{"p":"c","s":"bg","x":281.5,"y":-0.2},

      {"p":"c","s":"k1","x":281.5,"y":-0.11},{"p":"c","s":"k1","x":282,"y":-0.07},{"p":"c","s":"k1","x":282.5,"y":-0.02},{"p":"c","s":"k1","x":283,"y":0.13},{"p":"c","s":"k1","x":283.4,"y":0.33},{"p":"c","s":"k1","x":283.6,"y":0.62},{"p":"c","s":"k1","x":283.8,"y":1.36},{"p":"c","s":"k1","x":283.9,"y":2.2},{"p":"c","s":"k1","x":284,"y":3.65},{"p":"c","s":"k1","x":284.1,"y":5.99},{"p":"c","s":"k1","x":284.2,"y":9.3},{"p":"c","s":"k1","x":284.3,"y":13.44},{"p":"c","s":"k1","x":284.4,"y":17.81},{"p":"c","s":"k1","x":284.5,"y":21.37},{"p":"c","s":"k1","x":284.6,"y":22.78},{"p":"c","s":"k1","x":284.7,"y":21.92},{"p":"c","s":"k1","x":284.8,"y":19.68},{"p":"c","s":"k1","x":284.9,"y":16.57},{"p":"c","s":"k1","x":285,"y":12.67},{"p":"c","s":"k1","x":285.1,"y":9.44},{"p":"c","s":"k1","x":285.2,"y":6.48},{"p":"c","s":"k1","x":285.3,"y":4.54},{"p":"c","s":"k1","x":285.4,"y":3.07},{"p":"c","s":"k1","x":285.6,"y":1.63},{"p":"c","s":"k1","x":285.8,"y":1.06},{"p":"c","s":"k1","x":286,"y":0.82},{"p":"c","s":"k1","x":286.2,"y":0.69},{"p":"c","s":"k1","x":286.5,"y":0.59},{"p":"c","s":"k1","x":287,"y":0.51},{"p":"c","s":"k1","x":287.5,"y":0.48},{"p":"c","s":"k1","x":288,"y":0.46},{"p":"c","s":"k1","x":289,"y":0.46},{"p":"c","s":"k1","x":290,"y":0.47},

      {"p":"c","s":"k2","x":284,"y":-0.06},{"p":"c","s":"k2","x":284.2,"y":0.06},{"p":"c","s":"k2","x":284.4,"y":0.28},{"p":"c","s":"k2","x":284.6,"y":0.69},{"p":"c","s":"k2","x":284.8,"y":1.34},{"p":"c","s":"k2","x":285,"y":2.06},{"p":"c","s":"k2","x":285.1,"y":2.3},{"p":"c","s":"k2","x":285.2,"y":2.4},{"p":"c","s":"k2","x":285.3,"y":2.33},{"p":"c","s":"k2","x":285.4,"y":2.11},{"p":"c","s":"k2","x":285.6,"y":1.46},{"p":"c","s":"k2","x":285.8,"y":0.88},{"p":"c","s":"k2","x":286,"y":0.53},{"p":"c","s":"k2","x":286.2,"y":0.38},{"p":"c","s":"k2","x":286.5,"y":0.3},{"p":"c","s":"k2","x":287,"y":0.28},

      {"p":"c","s":"k3","x":284.4,"y":-0.01},{"p":"c","s":"k3","x":284.8,"y":0.19},{"p":"c","s":"k3","x":285,"y":0.35},{"p":"c","s":"k3","x":285.2,"y":0.57},{"p":"c","s":"k3","x":285.4,"y":0.91},{"p":"c","s":"k3","x":285.6,"y":1.34},{"p":"c","s":"k3","x":285.8,"y":1.79},{"p":"c","s":"k3","x":286,"y":2.09},{"p":"c","s":"k3","x":286.1,"y":2.14},{"p":"c","s":"k3","x":286.2,"y":2.11},{"p":"c","s":"k3","x":286.5,"y":1.62},{"p":"c","s":"k3","x":286.8,"y":1.02},{"p":"c","s":"k3","x":287,"y":0.72},{"p":"c","s":"k3","x":287.5,"y":0.41},{"p":"c","s":"k3","x":288,"y":0.36},

      {"p":"c","s":"k4","x":286,"y":0.28},{"p":"c","s":"k4","x":286.5,"y":0.53},{"p":"c","s":"k4","x":287,"y":0.97},{"p":"c","s":"k4","x":287.2,"y":1.15},{"p":"c","s":"k4","x":287.5,"y":1.28},{"p":"c","s":"k4","x":287.8,"y":1.19},{"p":"c","s":"k4","x":288,"y":1.03},{"p":"c","s":"k4","x":288.5,"y":0.65},{"p":"c","s":"k4","x":289,"y":0.47},{"p":"c","s":"k4","x":289.5,"y":0.43},

      {"p":"c","s":"k5","x":287,"y":0.29},{"p":"c","s":"k5","x":287.5,"y":0.38},{"p":"c","s":"k5","x":288,"y":0.57},{"p":"c","s":"k5","x":288.5,"y":0.94},{"p":"c","s":"k5","x":289,"y":1.26},{"p":"c","s":"k5","x":289.1,"y":1.27},{"p":"c","s":"k5","x":289.5,"y":1.14},{"p":"c","s":"k5","x":290,"y":0.8},{"p":"c","s":"k5","x":290.5,"y":0.59},{"p":"c","s":"k5","x":291,"y":0.53},

      {"p":"c","s":"k6","x":288,"y":0.34},{"p":"c","s":"k6","x":289,"y":0.46},{"p":"c","s":"k6","x":289.5,"y":0.58},{"p":"c","s":"k6","x":290,"y":0.79},{"p":"c","s":"k6","x":290.5,"y":1.08},{"p":"c","s":"k6","x":291,"y":1.31},{"p":"c","s":"k6","x":291.5,"y":1.31},{"p":"c","s":"k6","x":292,"y":1.12},{"p":"c","s":"k6","x":292.5,"y":0.89},{"p":"c","s":"k6","x":293,"y":0.74},{"p":"c","s":"k6","x":293.5,"y":0.67},{"p":"c","s":"k6","x":294,"y":0.65},{"p":"c","s":"k6","x":294.7,"y":0.64},

      {"p":"c","s":"res","x":295.4,"y":24.76},{"p":"c","s":"res","x":295,"y":24.84},{"p":"c","s":"res","x":294.6,"y":24.7},{"p":"c","s":"res","x":294.2,"y":24.8},{"p":"c","s":"res","x":293.8,"y":24.88},{"p":"c","s":"res","x":293.4,"y":24.72},{"p":"c","s":"res","x":293,"y":24.82},{"p":"c","s":"res","x":292.6,"y":24.9},{"p":"c","s":"res","x":292.2,"y":24.74},{"p":"c","s":"res","x":291.8,"y":24.86},{"p":"c","s":"res","x":291.4,"y":24.7},{"p":"c","s":"res","x":291,"y":24.84},{"p":"c","s":"res","x":290.6,"y":24.76},{"p":"c","s":"res","x":290.2,"y":24.88},{"p":"c","s":"res","x":289.8,"y":24.72},{"p":"c","s":"res","x":289.4,"y":24.82},{"p":"c","s":"res","x":289,"y":24.74},{"p":"c","s":"res","x":288.6,"y":24.86},{"p":"c","s":"res","x":288.2,"y":24.7},{"p":"c","s":"res","x":287.8,"y":24.8},{"p":"c","s":"res","x":287.4,"y":24.74},{"p":"c","s":"res","x":287,"y":24.88},{"p":"c","s":"res","x":286.6,"y":24.72},{"p":"c","s":"res","x":286.2,"y":24.84},{"p":"c","s":"res","x":285.8,"y":24.76},{"p":"c","s":"res","x":285.4,"y":24.66},{"p":"c","s":"res","x":285,"y":24.86},{"p":"c","s":"res","x":284.6,"y":24.78},{"p":"c","s":"res","x":284.2,"y":24.7},{"p":"c","s":"res","x":283.8,"y":24.84},{"p":"c","s":"res","x":283.4,"y":24.74},{"p":"c","s":"res","x":283,"y":24.86},{"p":"c","s":"res","x":282.6,"y":24.72},{"p":"c","s":"res","x":282.2,"y":24.82},{"p":"c","s":"res","x":281.8,"y":24.76},{"p":"c","s":"res","x":281.4,"y":24.88},{"p":"c","s":"res","x":281,"y":24.77},{"p":"c","s":"res","x":280.6,"y":24.78},{"p":"c","s":"res","x":280.2,"y":24.76},{"p":"c","s":"res","x":279.8,"y":24.77}
    ]
  },
  "vconcat": [
    {
      "title": {"text": "a)", "anchor": "start", "frame": "group", "dx": -90, "offset": 2, "font": "Lato", "fontSize": 36, "fontWeight": "normal", "color": "#111"},
      "width": 595,
      "height": 349,
      "data": {"name": "rows"},
      "transform": [{"filter": "datum.p === 'a'"}],
      "encoding": {
        "x": {"field": "x", "type": "quantitative", "scale": {"domain": [275.3, 298.3], "reverse": true, "nice": false, "zero": false},
              "axis": {"title": "Binding Energy (eV)", "values": [276,277,278,279,280,281,282,283,284,285,286,287,288,289,290,291,292,293,294,295,296,297,298], "labelExpr": "datum.value % 4 === 0 ? datum.label : ''", "tickSize": {"condition": {"test": "datum.value % 4 === 0", "value": 14}, "value": 8}, "labelPadding": 9, "titlePadding": 0, "labelFontSize": 23}},
        "y": {"field": "y", "type": "quantitative", "scale": {"domain": [-1.26, 28.07], "nice": false, "zero": false},
              "axis": {"title": "CPS", "values": [-1,0,1,2,3,4,5,6,7,8,9,10,11,12,13,14,15,16,17,18,19,20,21,22,23,24,25], "labelExpr": "datum.value % 5 === 0 ? datum.label : ''", "tickSize": {"condition": {"test": "datum.value % 5 === 0", "value": 15}, "value": 8}, "labelPadding": 1, "labelBaseline": "alphabetic", "titlePadding": 6}}
      },
      "layer": [
        {"transform": [{"filter": "datum.s === 'band'"}], "mark": {"type": "rect", "color": "#cff7cf"}, "encoding": {"x2": {"field": "x2"}, "y2": {"field": "y2"}}},
        {"transform": [{"filter": "indexof(['k1','k2','k3','k4','k5','k6'], datum.s) >= 0"}], "mark": {"type": "line", "strokeWidth": 0.9}, "encoding": {"color": {"field": "s", "type": "nominal", "scale": {"domain": ["k1","k2","k3","k4","k5","k6"], "range": ["#6f9a45","#a8b860","#3c9ea8","#4f9f5a","#5f8f4a","#a07850"]}, "legend": null}}},
        {"transform": [{"filter": "datum.s === 'bg'"}], "mark": {"type": "line", "color": "#56643a", "strokeWidth": 1}},
        {"transform": [{"filter": "datum.s === 'raw'"}], "mark": {"type": "line", "color": "#e8343c", "strokeWidth": 1.2}},
        {"transform": [{"filter": "datum.s === 'env'"}], "mark": {"type": "line", "color": "#8e4630", "strokeWidth": 1.2}},
        {"transform": [{"filter": "datum.s === 'res'"}], "mark": {"type": "line", "color": "#8a6a48", "strokeWidth": 1}},
        {"transform": [{"filter": "datum.s === 'sep'"}], "mark": {"type": "rule", "color": "#222", "strokeWidth": 1}, "encoding": {"x2": {"field": "x2"}}},
        {"transform": [{"filter": "datum.s === 'std'"}], "mark": {"type": "text", "align": "left", "baseline": "alphabetic", "font": "Liberation Sans", "fontSize": 24, "color": "#222"}, "encoding": {"text": {"field": "t"}}},
        {"transform": [{"filter": "datum.s === 'x10'"}], "mark": {"type": "text", "align": "left", "baseline": "alphabetic", "font": "Liberation Sans", "fontSize": 22, "color": "#333"}, "encoding": {"text": {"field": "t"}}},
        {"transform": [{"filter": "datum.s === 'exp'"}], "mark": {"type": "text", "align": "left", "baseline": "alphabetic", "font": "Liberation Sans", "fontSize": 16, "color": "#333"}, "encoding": {"text": {"field": "t"}}},
        {"transform": [{"filter": "datum.s === 'tag'"}], "mark": {"type": "text", "align": "center", "baseline": "middle", "angle": 270, "font": "Liberation Sans", "fontSize": 22, "color": "#222"}, "encoding": {"text": {"field": "t"}}},
        {"transform": [{"filter": "datum.s === 'l1'"}], "mark": {"type": "text", "align": "left", "baseline": "middle", "font": "Liberation Sans", "fontSize": 24, "color": "#d9a3a3"}, "encoding": {"text": {"field": "t"}}},
        {"transform": [{"filter": "datum.s === 'l2'"}], "mark": {"type": "text", "align": "left", "baseline": "middle", "font": "Liberation Sans", "fontSize": 24, "color": "#e7b57e"}, "encoding": {"text": {"field": "t"}}}
      ]
    },
    {
      "title": {"text": "b)", "anchor": "start", "frame": "group", "dx": -90, "offset": 2, "font": "Lato", "fontSize": 36, "fontWeight": "normal", "color": "#111"},
      "width": 595,
      "height": 349,
      "data": {"name": "rows"},
      "transform": [{"filter": "datum.p === 'b'"}],
      "encoding": {
        "x": {"field": "x", "type": "quantitative", "scale": {"domain": [275.3, 298.3], "reverse": true, "nice": false, "zero": false},
              "axis": {"title": "Binding Energy (eV)", "values": [276,277,278,279,280,281,282,283,284,285,286,287,288,289,290,291,292,293,294,295,296,297,298], "labelExpr": "datum.value % 4 === 0 ? datum.label : ''", "tickSize": {"condition": {"test": "datum.value % 4 === 0", "value": 14}, "value": 8}, "labelPadding": 9, "titlePadding": 0, "labelFontSize": 23}},
        "y": {"field": "y", "type": "quantitative", "scale": {"domain": [-1.3, 40.63], "nice": false, "zero": false},
              "axis": {"title": "CPS", "values": [-1,0,1,2,3,4,5,6,7,8,9,10,11,12,13,14,15,16,17,18,19,20,21,22,23,24,25,26,27,28,29,30,31,32,33,34,35,36], "labelExpr": "datum.value % 5 === 0 ? datum.label : ''", "tickSize": {"condition": {"test": "datum.value % 5 === 0", "value": 15}, "value": 8}, "labelPadding": 1, "labelBaseline": "alphabetic", "titlePadding": 6}}
      },
      "layer": [
        {"transform": [{"filter": "datum.s === 'band'"}], "mark": {"type": "rect", "color": "#cff7cf"}, "encoding": {"x2": {"field": "x2"}, "y2": {"field": "y2"}}},
        {"transform": [{"filter": "indexof(['k1','k2','k3','k4','k5','k6'], datum.s) >= 0"}], "mark": {"type": "line", "strokeWidth": 0.9}, "encoding": {"color": {"field": "s", "type": "nominal", "scale": {"domain": ["k1","k2","k3","k4","k5","k6"], "range": ["#6f9a45","#a8b860","#3c9ea8","#4f9f5a","#5f8f4a","#a07850"]}, "legend": null}}},
        {"transform": [{"filter": "datum.s === 'bg'"}], "mark": {"type": "line", "color": "#56643a", "strokeWidth": 1}},
        {"transform": [{"filter": "datum.s === 'raw'"}], "mark": {"type": "line", "color": "#e8343c", "strokeWidth": 1.2}},
        {"transform": [{"filter": "datum.s === 'env'"}], "mark": {"type": "line", "color": "#8e4630", "strokeWidth": 1.2}},
        {"transform": [{"filter": "datum.s === 'res'"}], "mark": {"type": "line", "color": "#8a6a48", "strokeWidth": 1}},
        {"transform": [{"filter": "datum.s === 'sep'"}], "mark": {"type": "rule", "color": "#222", "strokeWidth": 1}, "encoding": {"x2": {"field": "x2"}}},
        {"transform": [{"filter": "datum.s === 'std'"}], "mark": {"type": "text", "align": "left", "baseline": "alphabetic", "font": "Liberation Sans", "fontSize": 24, "color": "#222"}, "encoding": {"text": {"field": "t"}}},
        {"transform": [{"filter": "datum.s === 'x10'"}], "mark": {"type": "text", "align": "left", "baseline": "alphabetic", "font": "Liberation Sans", "fontSize": 22, "color": "#333"}, "encoding": {"text": {"field": "t"}}},
        {"transform": [{"filter": "datum.s === 'exp'"}], "mark": {"type": "text", "align": "left", "baseline": "alphabetic", "font": "Liberation Sans", "fontSize": 16, "color": "#333"}, "encoding": {"text": {"field": "t"}}},
        {"transform": [{"filter": "datum.s === 'tag'"}], "mark": {"type": "text", "align": "center", "baseline": "middle", "angle": 270, "font": "Liberation Sans", "fontSize": 22, "color": "#222"}, "encoding": {"text": {"field": "t"}}},
        {"transform": [{"filter": "datum.s === 'l1'"}], "mark": {"type": "text", "align": "left", "baseline": "middle", "font": "Liberation Sans", "fontSize": 24, "color": "#d9a3a3"}, "encoding": {"text": {"field": "t"}}},
        {"transform": [{"filter": "datum.s === 'l2'"}], "mark": {"type": "text", "align": "left", "baseline": "middle", "font": "Liberation Sans", "fontSize": 24, "color": "#e7b57e"}, "encoding": {"text": {"field": "t"}}}
      ]
    },
    {
      "title": {"text": "c)", "anchor": "start", "frame": "group", "dx": -90, "offset": 2, "font": "Lato", "fontSize": 36, "fontWeight": "normal", "color": "#111"},
      "width": 595,
      "height": 349,
      "data": {"name": "rows"},
      "transform": [{"filter": "datum.p === 'c'"}],
      "encoding": {
        "x": {"field": "x", "type": "quantitative", "scale": {"domain": [275.3, 298.3], "reverse": true, "nice": false, "zero": false},
              "axis": {"title": "Binding Energy (eV)", "values": [276,277,278,279,280,281,282,283,284,285,286,287,288,289,290,291,292,293,294,295,296,297,298], "labelExpr": "datum.value % 4 === 0 ? datum.label : ''", "tickSize": {"condition": {"test": "datum.value % 4 === 0", "value": 14}, "value": 8}, "labelPadding": 9, "titlePadding": 0, "labelFontSize": 23}},
        "y": {"field": "y", "type": "quantitative", "scale": {"domain": [-1.3, 27.57], "nice": false, "zero": false},
              "axis": {"title": "CPS", "values": [-1,0,1,2,3,4,5,6,7,8,9,10,11,12,13,14,15,16,17,18,19,20,21,22,23,24], "labelExpr": "datum.value % 5 === 0 ? datum.label : ''", "tickSize": {"condition": {"test": "datum.value % 5 === 0", "value": 15}, "value": 8}, "labelPadding": 1, "labelBaseline": "alphabetic", "titlePadding": 6}}
      },
      "layer": [
        {"transform": [{"filter": "datum.s === 'band'"}], "mark": {"type": "rect", "color": "#cff7cf"}, "encoding": {"x2": {"field": "x2"}, "y2": {"field": "y2"}}},
        {"transform": [{"filter": "indexof(['k1','k2','k3','k4','k5','k6'], datum.s) >= 0"}], "mark": {"type": "line", "strokeWidth": 0.9}, "encoding": {"color": {"field": "s", "type": "nominal", "scale": {"domain": ["k1","k2","k3","k4","k5","k6"], "range": ["#6f9a45","#a8b860","#3c9ea8","#4f9f5a","#5f8f4a","#a07850"]}, "legend": null}}},
        {"transform": [{"filter": "datum.s === 'bg'"}], "mark": {"type": "line", "color": "#56643a", "strokeWidth": 1}},
        {"transform": [{"filter": "datum.s === 'raw'"}], "mark": {"type": "line", "color": "#e8343c", "strokeWidth": 1.2}},
        {"transform": [{"filter": "datum.s === 'env'"}], "mark": {"type": "line", "color": "#8e4630", "strokeWidth": 1.2}},
        {"transform": [{"filter": "datum.s === 'res'"}], "mark": {"type": "line", "color": "#8a6a48", "strokeWidth": 1}},
        {"transform": [{"filter": "datum.s === 'sep'"}], "mark": {"type": "rule", "color": "#222", "strokeWidth": 1}, "encoding": {"x2": {"field": "x2"}}},
        {"transform": [{"filter": "datum.s === 'std'"}], "mark": {"type": "text", "align": "left", "baseline": "alphabetic", "font": "Liberation Sans", "fontSize": 24, "color": "#222"}, "encoding": {"text": {"field": "t"}}},
        {"transform": [{"filter": "datum.s === 'x10'"}], "mark": {"type": "text", "align": "left", "baseline": "alphabetic", "font": "Liberation Sans", "fontSize": 22, "color": "#333"}, "encoding": {"text": {"field": "t"}}},
        {"transform": [{"filter": "datum.s === 'exp'"}], "mark": {"type": "text", "align": "left", "baseline": "alphabetic", "font": "Liberation Sans", "fontSize": 16, "color": "#333"}, "encoding": {"text": {"field": "t"}}},
        {"transform": [{"filter": "datum.s === 'tag'"}], "mark": {"type": "text", "align": "center", "baseline": "middle", "angle": 270, "font": "Liberation Sans", "fontSize": 22, "color": "#222"}, "encoding": {"text": {"field": "t"}}},
        {"transform": [{"filter": "datum.s === 'l1'"}], "mark": {"type": "text", "align": "left", "baseline": "middle", "font": "Liberation Sans", "fontSize": 24, "color": "#d9a3a3"}, "encoding": {"text": {"field": "t"}}},
        {"transform": [{"filter": "datum.s === 'l2'"}], "mark": {"type": "text", "align": "left", "baseline": "middle", "font": "Liberation Sans", "fontSize": 24, "color": "#e7b57e"}, "encoding": {"text": {"field": "t"}}}
      ]
    }
  ]
}
